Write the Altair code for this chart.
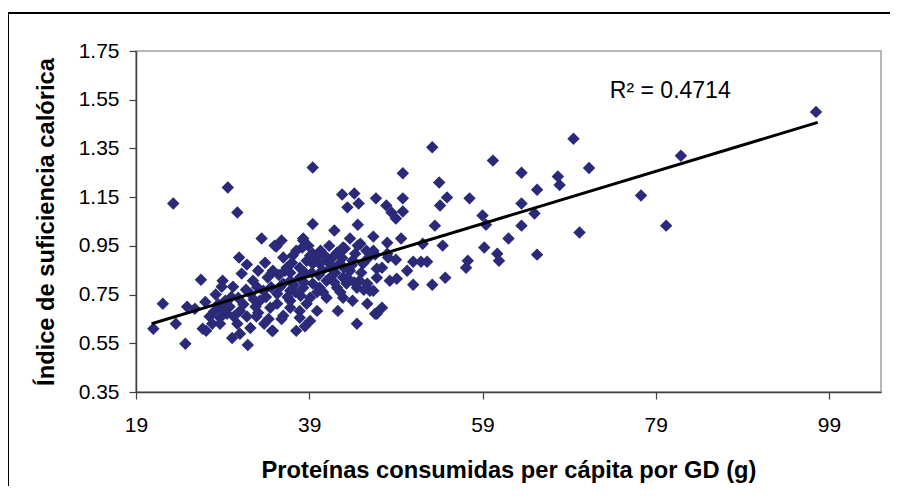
import altair as alt
import pandas as pd

# Protein consumed per capita per GD (g)
protein = [
    97.5, 69.5, 81.9, 63.5, 67.7, 67.9, 71.3, 65.3, 77.3, 63.5, 65.0, 63.5, 80.2, 62.0, 70.2, 65.3,
    60.2, 59.0, 59.4, 59.2, 60.7, 60.9, 53.2, 49.8, 54.0, 46.7, 49.8, 54.9, 54.1, 57.5, 47.9, 48.5,
    49.8, 49.0, 53.5, 46.4, 49.6, 48.0, 52.1, 54.4, 46.4, 48.0, 49.0, 51.0, 51.9, 52.6, 57.3, 57.1,
    47.4, 50.3, 46.8, 48.3, 49.1, 54.7, 51.0, 53.2, 46.4, 47.4, 46.6, 39.4, 42.8, 44.2, 43.4, 44.7,
    39.4, 41.9, 44.6, 35.8, 38.3, 43.7, 35.2, 38.2, 44.9,
    36.0, 37.1, 39.1, 42.2, 43.1, 44.3, 34.8, 36.4, 37.9, 39.4, 41.0, 42.5, 43.7, 45.2, 46.8,
    35.3, 36.8, 38.3, 39.4, 41.0, 42.2, 43.3, 44.8, 46.0, 35.3, 36.8, 38.7, 39.9, 37.9, 36.0,
    34.8, 42.3, 44.5, 46.8, 45.7, 44.0,
    29.6, 23.3, 30.7, 33.5, 35.0, 30.9, 31.8, 31.2, 33.1, 34.7, 26.5, 29.0, 28.9, 30.2, 32.5,
    22.1, 24.9, 25.8, 29.3, 30.8, 32.2, 33.3, 34.5, 29.5, 31.0, 28.7, 30.7, 32.2, 30.1, 34.7,
    31.0, 23.6, 21.0, 26.7, 27.1, 24.7, 31.9, 28.7, 39.1, 35.8,
    38.3, 39.4, 38.7, 44.6, 46.6, 48.1, 40.2, 41.7, 42.9, 41.4, 43.4, 44.5, 45.7, 40.2, 39.1,
    41.0, 42.9, 37.9,
    33.7, 34.3, 33.1, 36.8, 37.5, 38.5, 36.8, 36.0, 37.9, 39.3, 36.2, 33.9, 37.0, 40.5, 41.5,
    38.5, 42.0, 43.0, 45.0, 36.5, 38.0, 40.6, 42.6, 34.0, 32.8, 31.8, 29.8, 28.0, 27.5, 28.2, 27.0,
    37.5, 38.9, 40.3, 41.3, 40.8, 39.8, 42.8, 44.0, 45.8, 45.6, 43.9, 41.8, 40.1, 38.4, 37.2,
    42.9, 44.2, 45.3, 41.9, 39.9, 37.4, 35.6, 34.6, 35.5, 36.8,
    29.0, 30.3, 31.4, 32.9, 33.8, 32.6, 30.0, 31.7, 28.5, 27.8, 33.0, 34.2,
]

# Caloric sufficiency index
index = [
    1.50, 1.39, 1.32, 1.25, 1.235, 1.20, 1.27, 1.18, 1.157, 1.124, 1.083, 1.033, 1.033, 0.98, 1.005, 0.914,
    1.30, 1.075, 1.037, 0.943, 0.918, 0.889, 1.355, 1.248, 1.21, 1.145, 1.145, 1.149, 1.116, 1.145, 1.116, 1.087,
    1.091, 1.062, 1.033, 0.988, 0.98, 0.963, 0.959, 0.951, 0.93, 0.918, 0.893, 0.885, 0.885, 0.885, 0.889, 0.86,
    0.86, 0.848, 0.819, 0.807, 0.815, 0.819, 0.79, 0.79, 0.766, 0.696, 0.671, 1.272, 1.161, 1.165, 1.108, 1.124,
    1.04, 1.013, 1.037, 0.972, 0.98, 0.98, 0.947, 0.943, 0.959,
    0.902, 0.91, 0.91, 0.922, 0.939, 0.918, 0.848, 0.86, 0.86, 0.877, 0.889, 0.877, 0.848, 0.877, 0.856,
    0.753, 0.766, 0.778, 0.795, 0.807, 0.778, 0.795, 0.807, 0.766, 0.712, 0.696, 0.712, 0.683, 0.655, 0.663,
    0.601, 0.683, 0.63, 0.671, 0.712, 0.725,
    1.19, 1.124, 1.087, 0.98, 0.951, 0.902, 0.873, 0.836, 0.848, 0.84, 0.811, 0.807, 0.782, 0.782, 0.807,
    0.712, 0.70, 0.692, 0.725, 0.737, 0.753, 0.725, 0.696, 0.671, 0.683, 0.63, 0.63, 0.613, 0.572, 0.601,
    0.589, 0.63, 0.61, 0.61, 0.601, 0.548, 0.543, 0.655, 0.642, 0.65,
    0.972, 0.918, 0.889, 0.951, 0.914, 0.902, 0.877, 0.902, 0.943, 0.819, 0.819, 0.778, 0.795, 0.778, 0.737,
    0.737, 0.737, 0.683,
    0.766, 0.65, 0.675, 0.725, 0.601, 0.62, 0.807, 0.795, 0.819, 0.84, 0.848, 0.881, 0.881, 0.85, 0.86,
    0.84, 0.84, 0.86, 0.84, 0.74, 0.745, 0.76, 0.76, 0.74, 0.70, 0.66, 0.70, 0.68, 0.66, 0.75, 0.72,
    0.93, 0.95, 0.93, 0.95, 0.91, 0.90, 0.90, 0.89, 0.90, 0.93, 0.87, 0.86, 0.83, 0.80, 0.79,
    0.82, 0.80, 0.77, 0.80, 0.76, 0.76, 0.78, 0.78, 0.83, 0.84,
    0.69, 0.66, 0.71, 0.66, 0.63, 0.73, 0.74, 0.77, 0.71, 0.63, 0.78, 0.82,
]

# Linear trend line as drawn in the reference (ends of the fitted line)
trend_x = [20.8, 97.7]
trend_y = [0.630, 1.457]

x_ticks = [19, 39, 59, 79, 99]
y_ticks = [0.35, 0.55, 0.75, 0.95, 1.15, 1.35, 1.55, 1.75]
r2_label = "R² = 0.4714"
r2_pos = (73.7, 1.556)

FONT = "Liberation Sans"
NAVY = "#2B2A78"

df = pd.DataFrame({"x": protein, "y": index})
trend_df = pd.DataFrame({"x": trend_x, "y": trend_y})

xscale = alt.Scale(domain=[19, 105], nice=False, zero=False)
yscale = alt.Scale(domain=[0.35, 1.75], nice=False, zero=False)

xaxis = alt.Axis(
    values=x_ticks, format="d", title="Proteínas consumidas per cápita por GD (g)",
    titleBaseline="alphabetic", titleY=85, labelPadding=15, labelFlush=False,
)
yaxis = alt.Axis(
    values=y_ticks, format=".2f", title="Índice de suficiencia calórica",
    titleAngle=270, titleBaseline="alphabetic", titleX=-83, labelPadding=10,
    labelFlush=False,
)

points = alt.Chart(df).mark_point(
    shape="diamond", filled=True, size=155, color=NAVY, opacity=1
).encode(
    x=alt.X("x:Q", scale=xscale, axis=xaxis),
    y=alt.Y("y:Q", scale=yscale, axis=yaxis),
)

trend = alt.Chart(trend_df).mark_line(color="black", strokeWidth=3).encode(
    x=alt.X("x:Q", scale=xscale),
    y=alt.Y("y:Q", scale=yscale),
)

label_df = pd.DataFrame({"x": [r2_pos[0]], "y": [r2_pos[1]], "t": [r2_label]})
label = alt.Chart(label_df).mark_text(
    align="left", baseline="alphabetic", font=FONT, fontSize=23, color="black"
).encode(
    x=alt.X("x:Q", scale=xscale),
    y=alt.Y("y:Q", scale=yscale),
    text="t:N",
)

# Outer chart frame (only its top and left edges fall inside the picture)
one = pd.DataFrame({"a": [0]})
frame_top = alt.Chart(one).mark_rule(color="black", strokeWidth=2).encode(
    x=alt.value(-128), x2=alt.value(800), y=alt.value(-38)
)
frame_left = alt.Chart(one).mark_rule(color="black", strokeWidth=2).encode(
    x=alt.value(-128), y=alt.value(-38), y2=alt.value(480)
)

chart = alt.layer(frame_top, frame_left, points, trend, label).properties(
    width=745, height=341,
    padding={"left": 128, "top": 43, "right": 9, "bottom": 94},
    autosize=alt.AutoSizeParams(type="none"),
).configure_view(
    stroke="#A0A0A0", strokeWidth=1.5
).configure_axis(
    grid=False, domainColor="#404040", domainWidth=1.5, tickColor="#404040",
    tickSize=7, tickWidth=1.2,
    labelFont=FONT, labelFontSize=21, labelColor="black",
    titleFont=FONT, titleFontSize=23.7, titleFontWeight="bold", titleColor="black",
)

chart.save("out.html", embed_options={"renderer": "svg", "actions": False})
